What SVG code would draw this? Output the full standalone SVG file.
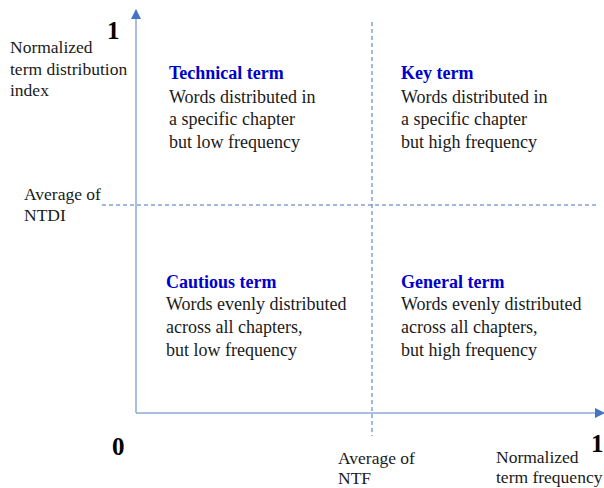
<svg xmlns="http://www.w3.org/2000/svg" width="604" height="488" viewBox="0 0 604 488">
<style>
text{font-family:"Liberation Serif","Times New Roman",serif;font-size:18px;fill:#1a1a1a}
.lab{font-size:17.5px}
.h{font-weight:bold;fill:#0000CC}
.big{font-weight:bold;font-size:25px;fill:#000}
.axis{stroke:#8EA9DB;stroke-width:1.5;fill:none}
.dash{stroke:#4472C4;stroke-width:1;stroke-dasharray:4 3;fill:none}
</style>
<defs>
<marker id="ah" markerWidth="10" markerHeight="10" refX="9" refY="5" orient="auto" markerUnits="userSpaceOnUse">
<path d="M0,0 L10,5 L0,10 Z" fill="#4472C4"/>
</marker>
</defs>
<rect width="604" height="488" fill="#fff"/>
<g id="connectors">
<line class="dash" x1="372" y1="22" x2="372" y2="436"/>
<line class="dash" x1="102" y1="205" x2="598" y2="205"/>
<line class="axis" x1="136" y1="413" x2="136" y2="10" marker-end="url(#ah)"/>
<line class="axis" x1="136" y1="413" x2="604" y2="413" marker-end="url(#ah)"/>
</g>
<g id="y-axis-labels">
<text class="big" x="107" y="39">1</text>
<text class="lab" x="10" y="53">Normalized</text>
<text class="lab" x="10" y="75">term distribution</text>
<text class="lab" x="10" y="96">index</text>
<text class="lab" x="24" y="200">Average of</text>
<text class="lab" x="24" y="221">NTDI</text>
</g>
<g id="x-axis-labels">
<text class="big" x="112" y="455">0</text>
<text class="big" x="591" y="452">1</text>
<text class="lab" x="338" y="464">Average of</text>
<text class="lab" x="338" y="484">NTF</text>
<text class="lab" x="496" y="463">Normalized</text>
<text class="lab" x="496" y="483">term frequency</text>
</g>
<g id="technical">
<text class="h" x="169" y="79">Technical term</text>
<text x="169" y="103">Words distributed in</text>
<text x="169" y="125">a specific chapter</text>
<text x="169" y="148">but low frequency</text>
</g>
<g id="key">
<text class="h" x="401" y="79">Key term</text>
<text x="401" y="103">Words distributed in</text>
<text x="401" y="125">a specific chapter</text>
<text x="401" y="148">but high frequency</text>
</g>
<g id="cautious">
<text class="h" x="166" y="288">Cautious term</text>
<text x="166" y="310">Words evenly distributed</text>
<text x="166" y="333">across all chapters,</text>
<text x="166" y="356">but low frequency</text>
</g>
<g id="general">
<text class="h" x="401" y="288">General term</text>
<text x="401" y="310">Words evenly distributed</text>
<text x="401" y="333">across all chapters,</text>
<text x="401" y="356">but high frequency</text>
</g>
</svg>
